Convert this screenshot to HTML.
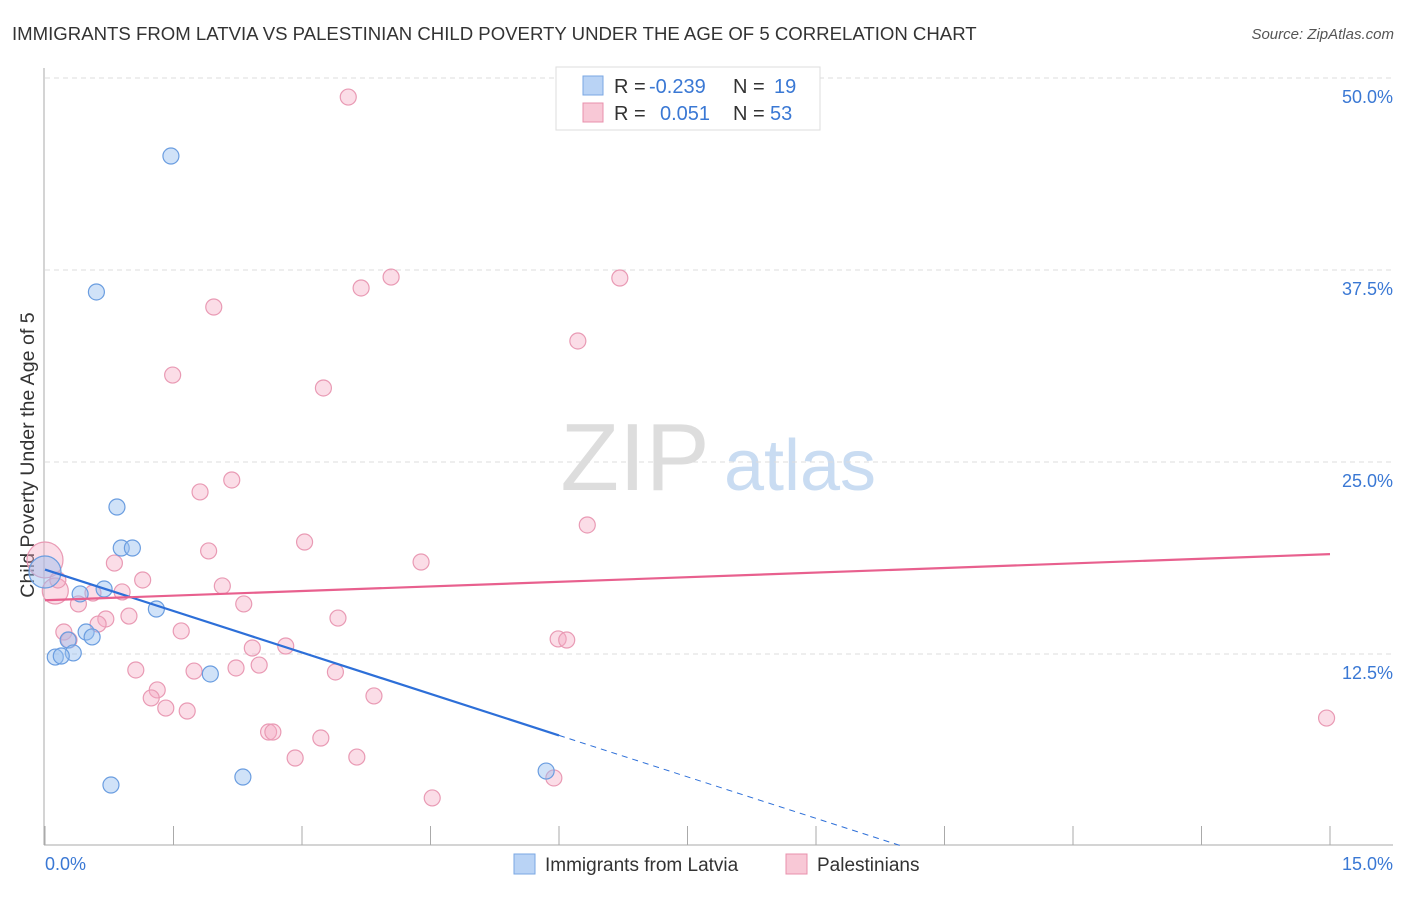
<!DOCTYPE html>
<html><head><meta charset="utf-8"><style>
body{margin:0;background:#fff;font-family:"Liberation Sans",sans-serif}
svg text{font-family:"Liberation Sans",sans-serif}
</style></head><body>
<svg id="c" width="1406" height="892" xmlns="http://www.w3.org/2000/svg">
<text x="12" y="40" font-size="18.6" fill="#333">IMMIGRANTS FROM LATVIA VS PALESTINIAN CHILD POVERTY UNDER THE AGE OF 5 CORRELATION CHART</text>
<text x="1394" y="39" font-size="15" fill="#555" text-anchor="end" font-style="italic">Source: ZipAtlas.com</text>
<text x="34" y="455" font-size="19.6" fill="#333" text-anchor="middle" transform="rotate(-90 34 455)">Child Poverty Under the Age of 5</text>
<g><text x="635" y="490" font-size="96" fill="#ddd" font-family="Liberation Serif" text-anchor="middle">ZIP</text><text x="800" y="490" font-size="72" fill="#c9dcf2" text-anchor="middle">atlas</text></g>
<g id="grid"></g><g id="axes"></g><g id="pts"></g><g id="trend"></g>
<g>
<rect x="556" y="67" width="264" height="63" fill="#fff" stroke="#ddd"/>
<rect x="583" y="76" width="20" height="19" fill="#b9d3f5" stroke="#7aa7e3"/>
<rect x="583" y="103" width="20" height="19" fill="#f8c8d6" stroke="#e890ac"/>
<text x="614" y="93" font-size="20" fill="#333">R = </text><text x="649" y="93" font-size="20" fill="#3a78d4">-0.239</text>
<text x="733" y="93" font-size="20" fill="#333">N = </text><text x="774" y="93" font-size="20" fill="#3a78d4">19</text>
<text x="614" y="120" font-size="20" fill="#333">R = </text><text x="660" y="120" font-size="20" fill="#3a78d4">0.051</text>
<text x="733" y="120" font-size="20" fill="#333">N = </text><text x="770" y="120" font-size="20" fill="#3a78d4">53</text>
</g>
<g>
<rect x="514" y="854" width="21" height="20" fill="#b9d3f5" stroke="#7aa7e3"/>
<text x="545" y="871" font-size="19" fill="#333">Immigrants from Latvia</text>
<rect x="786" y="854" width="21" height="20" fill="#f8c8d6" stroke="#e890ac"/>
<text x="817" y="871" font-size="19" fill="#333">Palestinians</text>
</g>
</svg>
<script>
const yTicks=[12.5,25,37.5,50];
const yTickLabels=["12.5%","25.0%","37.5%","50.0%"];
const xTickLabels=["0.0%","15.0%"];
const latviaX=[1.47,0.60,0.84,0.89,1.02,0.0,0.41,0.69,1.30,0.48,0.55,0.27,0.33,0.12,0.19,1.93,0.77,2.31,5.85];
const latviaY=[44.92,36.07,22.07,19.40,19.40,17.84,16.41,16.73,15.43,13.93,13.61,13.41,12.57,12.30,12.37,11.20,3.97,4.49,4.88];
const latviaR=[8,8,8,8,8,16,8,8,8,8,8,8,8,8,8,8,8,8,8];
const palX=[3.54,1.97,4.04,3.69,6.71,6.22,1.49,3.25,2.18,1.81,6.33,3.03,1.91,4.39,0,0.81,1.14,2.07,0.90,0.12,0.39,2.32,3.42,0.98,0.71,0.62,1.59,0.22,0.28,5.99,6.09,2.81,2.42,1.06,1.74,2.23,2.50,3.39,1.31,1.24,3.84,1.41,1.66,2.61,2.66,3.22,2.92,3.64,5.94,4.52,14.96,0.56,0.15];
const palY=[48.76,35.09,37.04,36.33,36.98,32.88,30.66,29.82,23.83,23.05,20.90,19.79,19.21,18.49,18.62,18.42,17.32,16.93,16.54,16.60,15.76,15.76,14.84,14.97,14.78,14.45,14.00,13.93,13.41,13.48,13.41,13.02,12.89,11.46,11.39,11.59,11.78,11.33,10.16,9.64,9.77,8.98,8.79,7.42,7.42,7.03,5.73,5.79,4.43,3.13,8.33,16.47,17.32];
const palR=[8,8,8,8,8,8,8,8,8,8,8,8,8,8,18,8,8,8,8,13,8,8,8,8,8,8,8,8,8,8,8,8,8,8,8,8,8,8,8,8,8,8,8,8,8,8,8,8,8,8,8,8,8];
const latviaTrend=[18.0,7.2];
const palTrend=[16.0,19.0];
const NS="http://www.w3.org/2000/svg";
const X=v=>45+v/15*1285, Y=v=>846-v/12.5*192;
function mk(t,a,p){const e=document.createElementNS(NS,t);for(const k in a)e.setAttribute(k,a[k]);document.getElementById(p).appendChild(e);return e;}
yTicks.forEach((t,i)=>{
 const l=mk('line',{x1:45,x2:1393,y1:Y(t),y2:Y(t),stroke:'#ddd','stroke-dasharray':'5,4'},'grid');
 
 
 const tx=mk('text',{x:1393,y:Y(t)+25,'font-size':18,fill:'#3a78d4','text-anchor':'end'},'axes');tx.textContent=yTickLabels[i];
 
 
});
mk('line',{x1:44,x2:44,y1:68,y2:845,stroke:'#aaa'},'axes');
mk('line',{x1:44,x2:1393,y1:845,y2:845,stroke:'#aaa'},'axes');
for(let i=0;i<=10;i++){const x=X(i*1.5);const t=mk('line',{x1:x,x2:x,y1:826,y2:845,stroke:'#aaa'},'axes');
 
 }
[[0,'start'],[15,'end']].forEach(([v,a],i)=>{const t=mk('text',{x:X(v)+(i?63:0),y:870,'font-size':18,fill:'#3a78d4','text-anchor':a},'axes');t.textContent=xTickLabels[i];
 
 });
palX.forEach((v,i)=>{const c=mk('circle',{cx:X(v),cy:Y(palY[i]),r:palR[i],fill:'rgba(245,170,195,0.4)',stroke:'#e99ab4','stroke-width':1.2},'pts');
 
 });
latviaX.forEach((v,i)=>{const c=mk('circle',{cx:X(v),cy:Y(latviaY[i]),r:latviaR[i],fill:'rgba(150,190,240,0.45)',stroke:'#6a9de0','stroke-width':1.2},'pts');
 
 });
const lb=latviaTrend[0], ls=(latviaTrend[1]-latviaTrend[0])/6;
let e=mk('line',{x1:X(0),y1:Y(lb),x2:X(6),y2:Y(lb+ls*6),stroke:'#2d6fd8','stroke-width':2.2},'trend');


const xEnd=-lb/ls;
e=mk('line',{x1:X(6),y1:Y(lb+ls*6),x2:X(xEnd),y2:Y(0),stroke:'#2d6fd8','stroke-width':1,'stroke-dasharray':'6,5'},'trend');


e=mk('line',{x1:X(0),y1:Y(palTrend[0]),x2:X(15),y2:Y(palTrend[1]),stroke:'#e8608e','stroke-width':2.2},'trend');


</script>
</body></html>
